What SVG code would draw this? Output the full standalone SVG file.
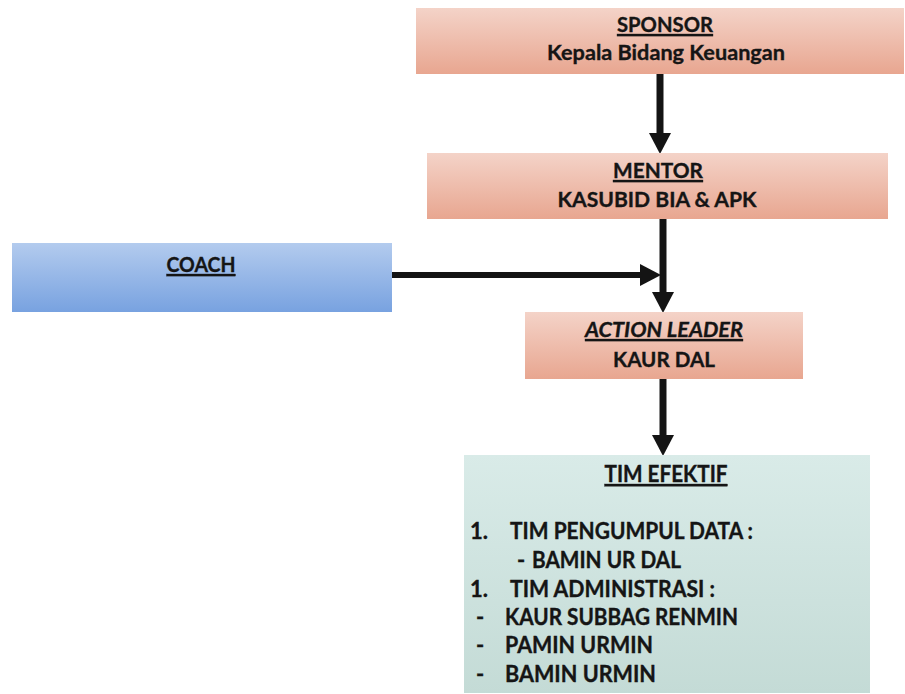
<svg xmlns="http://www.w3.org/2000/svg" width="905" height="694" viewBox="0 0 905 694">
  <defs>
    <linearGradient id="gPink" x1="0" y1="0" x2="0" y2="1">
      <stop offset="0" stop-color="#f4d3c8"/>
      <stop offset="1" stop-color="#e8a690"/>
    </linearGradient>
    <linearGradient id="gBlue" x1="0" y1="0" x2="0" y2="1">
      <stop offset="0" stop-color="#b3cbee"/>
      <stop offset="1" stop-color="#78a2e0"/>
    </linearGradient>
    <linearGradient id="gTeal" x1="0" y1="0" x2="0" y2="1">
      <stop offset="0" stop-color="#d9ebe8"/>
      <stop offset="1" stop-color="#c4dbd6"/>
    </linearGradient>
    <marker id="arrow" markerUnits="userSpaceOnUse" viewBox="0 -11 21 22" markerWidth="21" markerHeight="22" refX="0" refY="0" orient="auto">
      <path d="M0,-11 L21,0 L0,11 z" fill="#141414"/>
    </marker>
  </defs>
  <style>
    .t { font-family: Lato, "Liberation Sans", sans-serif; font-weight: 700; fill: #151515; font-size: 21px; stroke: #151515; stroke-width: 0.35; }
    .c { text-anchor: middle; }
    .u { text-decoration: underline; }
    .l { font-size: 22px; }
    .conn { stroke: #141414; stroke-width: 7; fill: none; marker-end: url(#arrow); }
  </style>
  <rect width="905" height="694" fill="#ffffff"/>

  <g id="connectors">
    <line class="conn" x1="660" y1="74" x2="660" y2="133"/>
    <line class="conn" x1="663" y1="219" x2="663" y2="292"/>
    <line class="conn" x1="392" y1="275" x2="640" y2="275" style="stroke-width:6"/>
    <line class="conn" x1="663" y1="379" x2="663" y2="435"/>
  </g>

  <g id="sponsor">
    <rect x="416" y="8" width="488" height="66" fill="url(#gPink)"/>
    <text class="t c u" x="665" y="32" textLength="96" lengthAdjust="spacingAndGlyphs">SPONSOR</text>
    <text class="t c" x="666" y="60" textLength="238" lengthAdjust="spacingAndGlyphs">Kepala Bidang Keuangan</text>
  </g>

  <g id="mentor">
    <rect x="427" y="153" width="461" height="66" fill="url(#gPink)"/>
    <text class="t c u" x="658" y="178" textLength="90" lengthAdjust="spacingAndGlyphs">MENTOR</text>
    <text class="t c" x="657" y="207" textLength="199" lengthAdjust="spacingAndGlyphs">KASUBID BIA &amp; APK</text>
  </g>

  <g id="coach">
    <rect x="12" y="243" width="380" height="69" fill="url(#gBlue)"/>
    <text class="t c u" x="201" y="272" textLength="69" lengthAdjust="spacingAndGlyphs">COACH</text>
  </g>

  <g id="action-leader">
    <rect x="525" y="312" width="278" height="67" fill="url(#gPink)"/>
    <text class="t c u" x="664" y="337" font-style="italic" textLength="158" lengthAdjust="spacingAndGlyphs">ACTION LEADER</text>
    <text class="t c" x="664" y="367" textLength="102" lengthAdjust="spacingAndGlyphs">KAUR DAL</text>
  </g>

  <g id="tim-efektif">
    <rect x="464" y="455" width="406" height="238" fill="url(#gTeal)"/>
    <text class="t c u l" x="666" y="482" textLength="123" lengthAdjust="spacingAndGlyphs">TIM EFEKTIF</text>
    <text class="t l" x="470" y="539">1.</text>
    <text class="t l" x="510" y="539" textLength="243" lengthAdjust="spacingAndGlyphs">TIM PENGUMPUL DATA :</text>
    <text class="t l" x="517" y="568">-</text>
    <text class="t l" x="532" y="568" textLength="149" lengthAdjust="spacingAndGlyphs">BAMIN UR DAL</text>
    <text class="t l" x="470" y="597">1.</text>
    <text class="t l" x="510" y="597" textLength="205" lengthAdjust="spacingAndGlyphs">TIM ADMINISTRASI :</text>
    <text class="t l" x="476" y="625">-</text>
    <text class="t l" x="505" y="625" textLength="233" lengthAdjust="spacingAndGlyphs">KAUR SUBBAG RENMIN</text>
    <text class="t l" x="476" y="653">-</text>
    <text class="t l" x="505" y="653" textLength="148" lengthAdjust="spacingAndGlyphs">PAMIN URMIN</text>
    <text class="t l" x="476" y="682">-</text>
    <text class="t l" x="505" y="682" textLength="151" lengthAdjust="spacingAndGlyphs">BAMIN URMIN</text>
  </g>
</svg>
